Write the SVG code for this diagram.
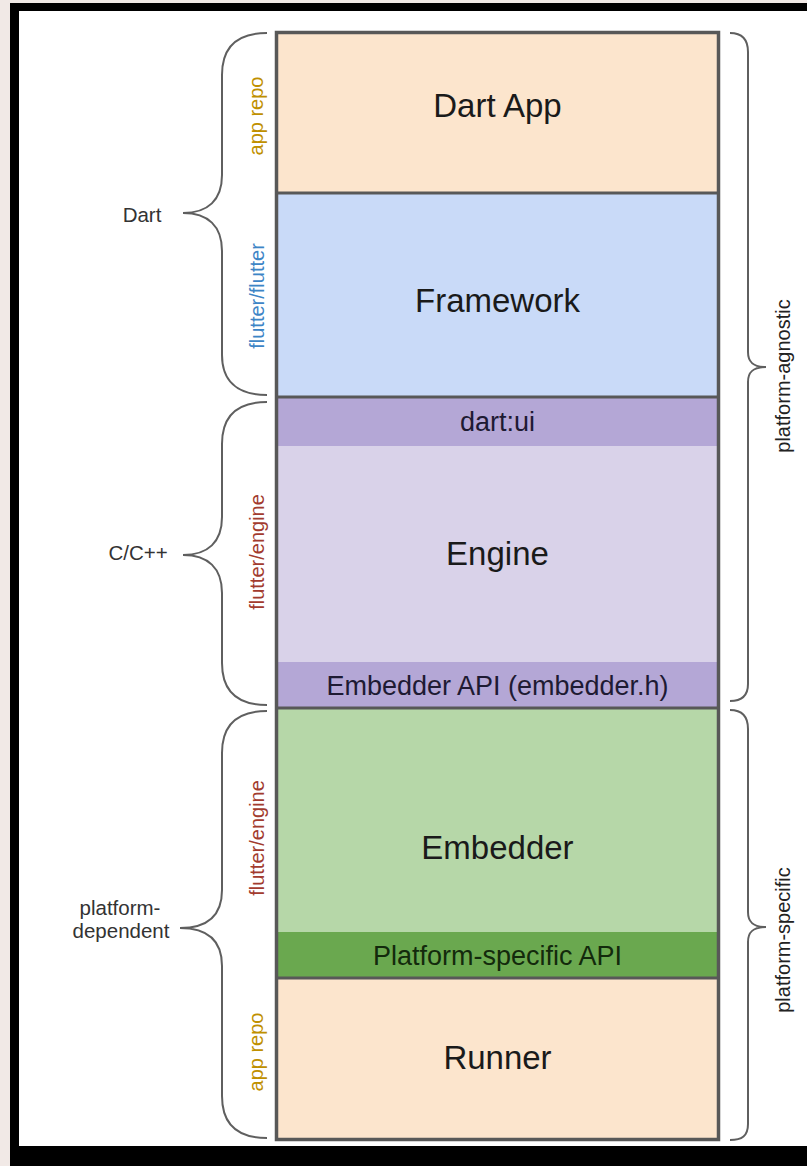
<svg xmlns="http://www.w3.org/2000/svg" width="807" height="1166" viewBox="0 0 807 1166">
<style>
.big{font-family:"Liberation Sans",Arial,sans-serif;font-size:33px;fill:#1a1a1a;text-anchor:middle}
.mid{font-family:"Liberation Sans",Arial,sans-serif;font-size:27px;text-anchor:middle}
.lbl{font-family:"Liberation Sans",Arial,sans-serif;font-size:20.5px;fill:#333;text-anchor:middle}
.rot{font-family:"Liberation Sans",Arial,sans-serif;font-size:20px;text-anchor:middle}
.brace{fill:none;stroke:#5f5f5f;stroke-width:2}
.sep{stroke:#585858;stroke-width:3}
</style>
<rect x="0" y="0" width="807" height="1166" fill="#f1e9e6"/>
<rect x="10" y="3" width="797" height="1163" fill="#000"/>
<rect x="19" y="11" width="788" height="1135" fill="#fff"/>

<g id="dart-app"><rect x="275" y="31" width="445" height="162" fill="#fce5cd"/><text class="big" x="497.5" y="117">Dart App</text></g>
<g id="framework"><rect x="275" y="193" width="445" height="204" fill="#c9daf8"/><text class="big" x="497.5" y="312">Framework</text></g>
<g id="dart-ui"><rect x="275" y="397" width="445" height="49" fill="#b4a7d6"/><text class="mid" x="497.5" y="431" fill="#1e1a33">dart:ui</text></g>
<g id="engine"><rect x="275" y="446" width="445" height="216" fill="#d9d2e9"/><text class="big" x="497.5" y="565">Engine</text></g>
<g id="embedder-api"><rect x="275" y="662" width="445" height="46" fill="#b4a7d6"/><text class="mid" x="497.5" y="695" fill="#1e1a33">Embedder API (embedder.h)</text></g>
<g id="embedder"><rect x="275" y="708" width="445" height="224" fill="#b6d7a8"/><text class="big" x="497.5" y="859">Embedder</text></g>
<g id="platform-api"><rect x="275" y="932" width="445" height="46" fill="#6aa84f"/><text class="mid" x="497.5" y="965" fill="#132a0c">Platform-specific API</text></g>
<g id="runner"><rect x="275" y="978" width="445" height="163" fill="#fce5cd"/><text class="big" x="497.5" y="1069">Runner</text></g>
<g id="stack-borders">
<line class="sep" x1="275" y1="193" x2="720" y2="193"/>
<line class="sep" x1="275" y1="397" x2="720" y2="397"/>
<line class="sep" x1="275" y1="708" x2="720" y2="708"/>
<line class="sep" x1="275" y1="978" x2="720" y2="978"/>
<rect x="276.5" y="32.5" width="442" height="1107" fill="none" stroke="#585858" stroke-width="3.5"/>
</g>

<g id="connectors">
<path class="brace" d="M267 33 C236 33 222 48 222 75 L222 175 C222 200 208 213 183 213 C208 213 222 226 222 251 L222 355 C222 380 236 395 267 395"/>
<path class="brace" d="M267 402 C236 402 222 417 222 444 L222 517 C222 542 208 555 183 555 C208 555 222 568 222 593 L222 663 C222 690 236 705 267 705"/>
<path class="brace" d="M267 711 C236 711 222 726 222 753 L222 890 C222 915 208 928 180 928 C208 928 222 941 222 966 L222 1096 C222 1123 236 1138 267 1138"/>
<path class="brace" d="M730 33 C742 33 748 40 748 52 L748 352 C748 361 752 367 766 367 C752 367 748 373 748 382 L748 684 C748 696 742 701 730 701"/>
<path class="brace" d="M730 710 C742 710 748 717 748 729 L748 912 C748 921 752 927 766 927 C752 927 748 933 748 942 L748 1124 C748 1136 742 1140 730 1140"/>
</g>

<g id="labels">
<text class="lbl" x="142" y="222">Dart</text>
<text class="lbl" x="138" y="560">C/C++</text>
<text class="lbl" x="120" y="915">platform-</text>
<text class="lbl" x="121" y="938">dependent</text>
<text class="rot" transform="translate(263 116) rotate(-90)" fill="#bf9000">app repo</text>
<text class="rot" transform="translate(264 296) rotate(-90)" fill="#3d85c6">flutter/flutter</text>
<text class="rot" transform="translate(264 552) rotate(-90)" fill="#a23b2e">flutter/engine</text>
<text class="rot" transform="translate(264 838) rotate(-90)" fill="#a23b2e">flutter/engine</text>
<text class="rot" transform="translate(263 1052) rotate(-90)" fill="#bf9000">app repo</text>
<text class="rot" transform="translate(790 376) rotate(-90)" fill="#222">platform-agnostic</text>
<text class="rot" transform="translate(790 940) rotate(-90)" fill="#222">platform-specific</text>
</g>
</svg>
